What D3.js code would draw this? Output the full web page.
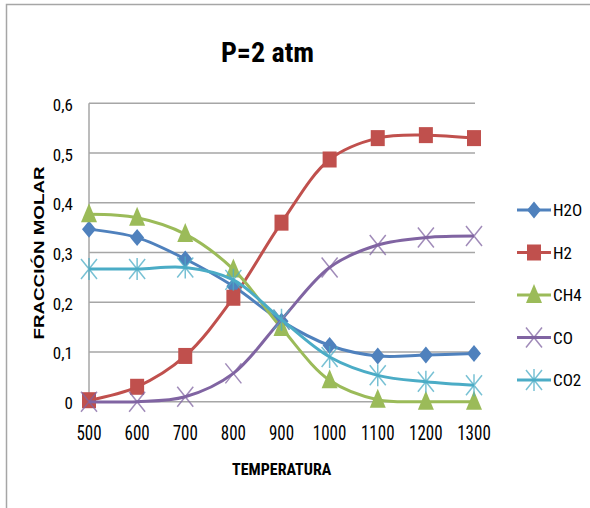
<!DOCTYPE html>
<html>
<head>
<meta charset="utf-8">
<script src="https://cdn.jsdelivr.net/npm/d3@7"></script>
<style>
  html, body { margin: 0; padding: 0; background: #fff; }
  svg { display: block; }
  text { font-family: "Liberation Sans Narrow", "Arial Narrow", "Roboto Condensed", "Liberation Sans", sans-serif; fill: #000; }
</style>
</head>
<body>
<svg id="chart" width="590" height="508"></svg>
<script>
// ---- data ----
const temperatures = [500, 600, 700, 800, 900, 1000, 1100, 1200, 1300];
const seriesNames = ["H2O", "H2", "CH4", "CO", "CO2"];
const h2oValues = [0.347, 0.330, 0.287, 0.232, 0.162, 0.113, 0.092, 0.094, 0.097];
const h2Values  = [0.003, 0.030, 0.092, 0.209, 0.360, 0.487, 0.530, 0.536, 0.530];
const ch4Values = [0.377, 0.370, 0.337, 0.266, 0.148, 0.043, 0.004, 0.000, 0.000];
const coValues  = [0.000, 0.000, 0.010, 0.057, 0.165, 0.270, 0.315, 0.330, 0.333];
const co2Values = [0.267, 0.267, 0.270, 0.245, 0.165, 0.090, 0.053, 0.040, 0.033];
const yTicks = [0, 0.1, 0.2, 0.3, 0.4, 0.5, 0.6];
const yTickLabels = ["0", "0,1", "0,2", "0,3", "0,4", "0,5", "0,6"];
const titleText = "P=2 atm";
const xTitle = "TEMPERATURA";
const yTitle = "FRACCIÓN MOLAR";

const colors = {H2O: "#4F81BD", H2: "#C0504D", CH4: "#9BBB59", CO: "#8064A2", CO2: "#4BACC6"};
const markerKind = {H2O: "diamond", H2: "square", CH4: "triangle", CO: "x", CO2: "star"};
const valuesBy = {H2O: h2oValues, H2: h2Values, CH4: ch4Values, CO: coValues, CO2: co2Values};

// ---- layout ----
const svg = d3.select("#chart");
const x = d3.scaleLinear().domain([500, 1300]).range([89, 474]);
const y = d3.scaleLinear().domain([0, 0.6]).range([401.7, 103.3]);

// outer frame
svg.append("rect").attr("x", 6.5).attr("y", 4.5).attr("width", 600).attr("height", 520)
  .attr("fill", "none").attr("stroke", "#a6a6a6").attr("stroke-width", 1.5);

// title
svg.append("text").attr("x", 267.5).attr("y", 61.7).attr("text-anchor", "middle")
  .style("font-size", "28px").style("font-weight", "bold").text(titleText);

// gridlines
svg.append("g").selectAll("line").data(yTicks).join("line")
  .attr("x1", x(500)).attr("x2", 475).attr("y1", d => y(d)).attr("y2", d => y(d))
  .attr("stroke", "#a6a6a6").attr("stroke-width", 1.5);
// left axis line
svg.append("line").attr("x1", x(500)).attr("x2", x(500)).attr("y1", y(0.6)).attr("y2", y(0))
  .attr("stroke", "#a6a6a6").attr("stroke-width", 1.5);

// y tick labels
svg.append("g").selectAll("text").data(yTicks).join("text")
  .attr("x", 73).attr("y", d => y(d) + 7.5).attr("text-anchor", "end")
  .style("font-size", "17px").text((d, i) => yTickLabels[i]);

// x tick labels
svg.append("g").selectAll("text").data(temperatures).join("text")
  .attr("transform", d => `translate(${x(d)},440) scale(1,1.2)`)
  .attr("text-anchor", "middle").style("font-size", "17px").text(d => d);

// axis titles
svg.append("text").attr("x", 281.7).attr("y", 475).attr("text-anchor", "middle")
  .style("font-size", "16px").style("font-weight", "bold").text(xTitle);
svg.append("text").attr("transform", "translate(44,253) rotate(-90)")
  .attr("text-anchor", "middle").attr("textLength", 173).attr("lengthAdjust", "spacingAndGlyphs")
  .style("font-family", "'Liberation Sans', Arial, sans-serif")
  .style("font-size", "14px").style("font-weight", "bold").text(yTitle);

// markers
function drawMarker(g, kind, color, cx, cy) {
  if (kind === "diamond") {
    g.append("path").attr("d", `M${cx},${cy-8.5}L${cx+7},${cy}L${cx},${cy+8.5}L${cx-7},${cy}Z`)
      .attr("fill", color);
  } else if (kind === "square") {
    g.append("rect").attr("x", cx - 7).attr("y", cy - 8).attr("width", 14).attr("height", 16)
      .attr("fill", color);
  } else if (kind === "triangle") {
    g.append("path").attr("d", `M${cx},${cy-11}L${cx+8},${cy+8}L${cx-8},${cy+8}Z`)
      .attr("fill", color);
  } else if (kind === "x") {
    g.append("path").attr("d", `M${cx-8},${cy-10}L${cx+8},${cy+10}M${cx+8},${cy-10}L${cx-8},${cy+10}`)
      .attr("stroke", color).attr("stroke-width", 1.5).attr("stroke-opacity", 0.75).attr("fill", "none");
  } else if (kind === "star") {
    g.append("path").attr("d", `M${cx-8},${cy-10}L${cx+8},${cy+10}M${cx+8},${cy-10}L${cx-8},${cy+10}M${cx},${cy-11}L${cx},${cy+11}`)
      .attr("stroke", color).attr("stroke-width", 1.5).attr("stroke-opacity", 0.75).attr("fill", "none");
  }
}

const line = d3.line().x(d => x(d[0])).y(d => y(d[1])).curve(d3.curveCatmullRom.alpha(0.5));

seriesNames.forEach(name => {
  const g = svg.append("g");
  const pts = temperatures.map((t, i) => [t, valuesBy[name][i]]);
  g.append("path").attr("d", line(pts)).attr("fill", "none")
    .attr("stroke", colors[name]).attr("stroke-width", 3).attr("stroke-linejoin", "round");
  pts.forEach(p => drawMarker(g, markerKind[name], colors[name], x(p[0]), y(p[1])));
});

// legend
const legendY = [210, 252.5, 295, 337.5, 380];
seriesNames.forEach((name, i) => {
  const g = svg.append("g");
  const ly = legendY[i];
  g.append("line").attr("x1", 517).attr("x2", 551).attr("y1", ly).attr("y2", ly)
    .attr("stroke", colors[name]).attr("stroke-width", 3);
  drawMarker(g, markerKind[name], colors[name], 534, ly);
  g.append("text").attr("x", 553).attr("y", ly + 6).style("font-size", "17px").text(name);
});
</script>
</body>
</html>
